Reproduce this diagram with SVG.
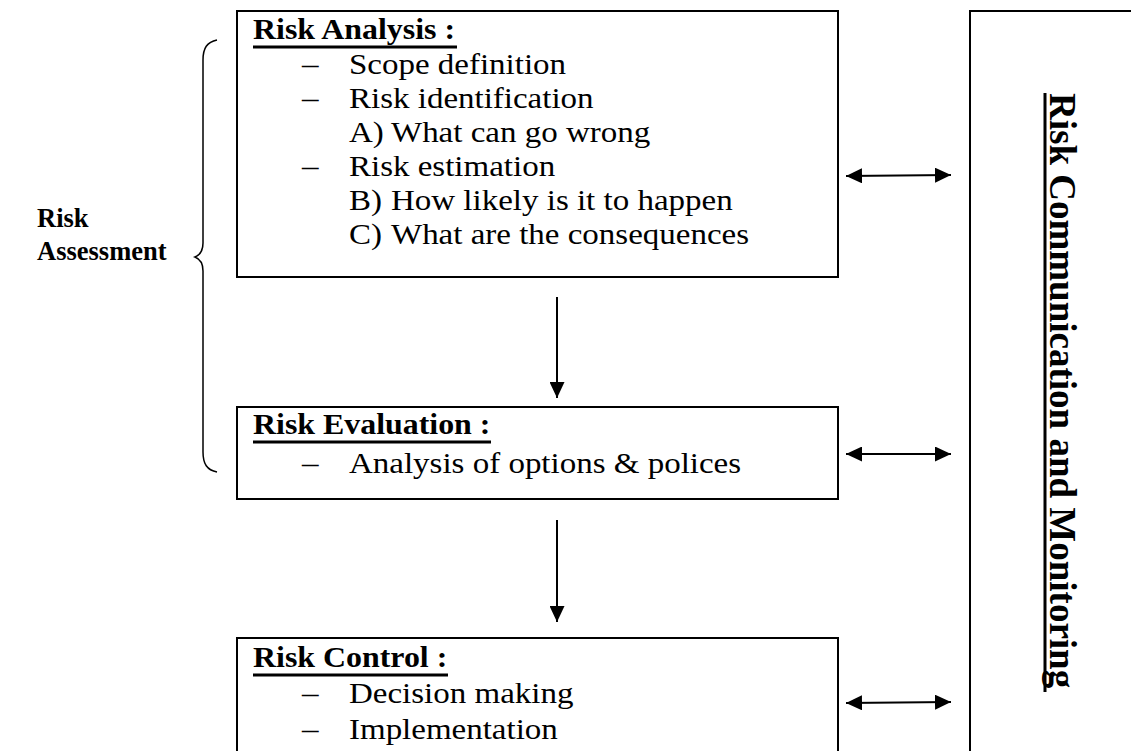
<svg xmlns="http://www.w3.org/2000/svg" width="1131" height="751" viewBox="0 0 1131 751">
<style>
.t{font-family:"Liberation Serif","Times New Roman",serif;font-size:30px;fill:#000}
.b{font-family:"Liberation Serif","Times New Roman",serif;font-size:29px;font-weight:bold;fill:#000}
.lb{font-family:"Liberation Serif","Times New Roman",serif;font-size:26.5px;font-weight:bold;fill:#000}
.box{fill:#fff;stroke:#000;stroke-width:2}
.ul{stroke:#000;stroke-width:3}
.ln{stroke:#000;stroke-width:2;fill:none}
</style>
<defs>
<marker id="ah" viewBox="0 0 16 15" refX="16" refY="7.5" markerWidth="16" markerHeight="15" orient="auto-start-reverse" markerUnits="userSpaceOnUse">
<path d="M0,0 L16,7.5 L0,15 Z" fill="#000"/>
</marker>
</defs>

<g id="assessment">
<path class="ln" style="stroke-width:1.5" d="M217,40 C207,42 203,48 203,60 L203,243 C203,251 200,255 195,257 C200,259 203,263 203,271 L203,452 C203,464 207,470 217,472"/>
<text class="lb" x="37" y="227">Risk</text>
<text class="lb" x="37" y="260">Assessment</text>
</g>

<g id="risk-analysis">
<rect class="box" x="237" y="11" width="601" height="266"/>
<text class="b" transform="translate(253 39) scale(1.1 1)">Risk Analysis :</text>
<line class="ul" x1="253" y1="47" x2="457" y2="47"/>
<text class="t" transform="translate(302 74) scale(1.1 1)">–</text>
<text class="t" transform="translate(349 74) scale(1.1 1)">Scope definition</text>
<text class="t" transform="translate(302 108) scale(1.1 1)">–</text>
<text class="t" transform="translate(349 108) scale(1.1 1)">Risk identification</text>
<text class="t" transform="translate(349 142) scale(1.1 1)">A)</text>
<text class="t" transform="translate(391 142) scale(1.1 1)">What can go wrong</text>
<text class="t" transform="translate(302 176) scale(1.1 1)">–</text>
<text class="t" transform="translate(349 176) scale(1.1 1)">Risk estimation</text>
<text class="t" transform="translate(349 210) scale(1.1 1)">B)</text>
<text class="t" transform="translate(391 210) scale(1.1 1)">How likely is it to happen</text>
<text class="t" transform="translate(349 244) scale(1.1 1)">C)</text>
<text class="t" transform="translate(391 244) scale(1.1 1)">What are the consequences</text>
</g>

<g id="risk-evaluation">
<rect class="box" x="237" y="407" width="601" height="92"/>
<text class="b" transform="translate(253 434) scale(1.1 1)">Risk Evaluation :</text>
<line class="ul" x1="253" y1="442" x2="491" y2="442"/>
<text class="t" transform="translate(302 473) scale(1.1 1)">–</text>
<text class="t" transform="translate(349 473) scale(1.1 1)">Analysis of options &amp; polices</text>
</g>

<g id="risk-control">
<rect class="box" x="237" y="638" width="601" height="130"/>
<text class="b" transform="translate(253 667) scale(1.1 1)">Risk Control :</text>
<line class="ul" x1="253" y1="675" x2="448" y2="675"/>
<text class="t" transform="translate(302 703) scale(1.1 1)">–</text>
<text class="t" transform="translate(349 703) scale(1.1 1)">Decision making</text>
<text class="t" transform="translate(302 739) scale(1.1 1)">–</text>
<text class="t" transform="translate(349 739) scale(1.1 1)">Implementation</text>
</g>

<g id="communication">
<rect class="box" x="970" y="11" width="200" height="760"/>
<text class="b" style="font-size:37px" transform="translate(1050 93) rotate(90)">Risk Communication and Monitoring</text>
<line class="ul" x1="1045" y1="93" x2="1045" y2="692"/>
</g>

<g id="connectors">
<line class="ln" x1="557" y1="297" x2="557" y2="398" marker-end="url(#ah)"/>
<line class="ln" x1="557" y1="520" x2="557" y2="622" marker-end="url(#ah)"/>
<line class="ln" x1="846" y1="176" x2="951" y2="175" marker-start="url(#ah)" marker-end="url(#ah)"/>
<line class="ln" x1="846" y1="454" x2="951" y2="454" marker-start="url(#ah)" marker-end="url(#ah)"/>
<line class="ln" x1="846" y1="703" x2="951" y2="702" marker-start="url(#ah)" marker-end="url(#ah)"/>
</g>
</svg>
